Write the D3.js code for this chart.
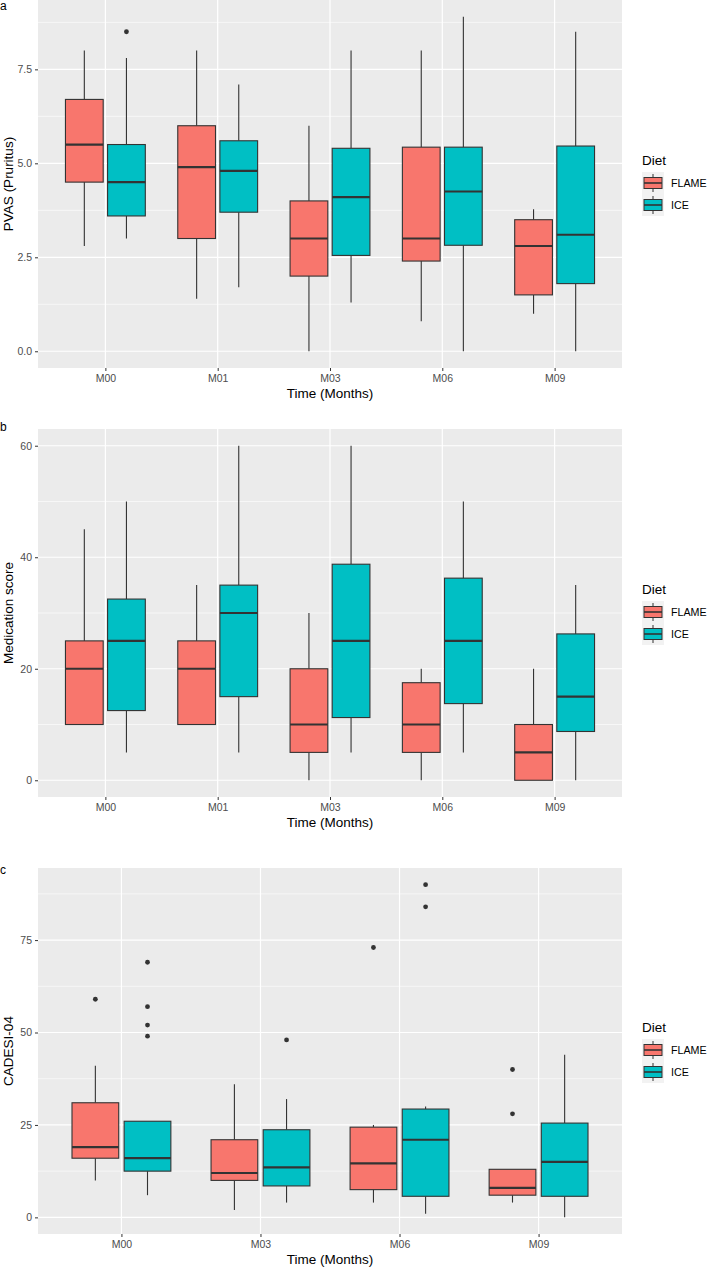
<!DOCTYPE html>
<html>
<head>
<meta charset="utf-8">
<script src="https://cdn.jsdelivr.net/npm/d3@7"></script>
<style>
  body { margin: 0; background: #fff; }
  svg { display: block; font-family: "Liberation Sans", Arial, sans-serif; }
</style>
</head>
<body>
<svg id="chart" width="709" height="1267"></svg>
<script>
// ---------- DATA ----------
const diets = ["FLAME", "ICE"];
const dietColors = ["#F8766D", "#00BFC4"];

// Panel a: PVAS (Pruritus) - [lowWhisker, Q1, median, Q3, highWhisker]
const aCategories = ["M00", "M01", "M03", "M06", "M09"];
const aFlame = [[2.8, 4.5, 5.5, 6.7, 8.0], [1.4, 3.0, 4.9, 6.0, 8.0], [0.0, 2.0, 3.0, 4.0, 6.0], [0.8, 2.4, 3.0, 5.43, 8.0], [1.0, 1.5, 2.8, 3.5, 3.78]];
const aIce = [[3.0, 3.6, 4.5, 5.5, 7.8], [1.7, 3.7, 4.8, 5.6, 7.1], [1.3, 2.55, 4.1, 5.4, 8.0], [0.0, 2.82, 4.25, 5.43, 8.9], [0.0, 1.8, 3.1, 5.46, 8.5]];
const aFlameOutliers = [];
const aIceOutliers = [["M00", 8.5]];
const aTicks = [0, 2.5, 5, 7.5];
const aTickLabels = ["0.0", "2.5", "5.0", "7.5"];
const aMinor = [1.25, 3.75, 6.25, 8.75];

// Panel b: Medication score
const bCategories = ["M00", "M01", "M03", "M06", "M09"];
const bFlame = [[10, 10, 20, 25, 45], [10, 10, 20, 25, 35], [0, 5, 10, 20, 30], [0, 5, 10, 17.5, 20], [0, 0, 5, 10, 20]];
const bIce = [[5, 12.5, 25, 32.5, 50], [5, 15, 30, 35, 60], [5, 11.25, 25, 38.75, 60], [5, 13.75, 25, 36.25, 50], [0, 8.75, 15, 26.25, 35]];
const bFlameOutliers = [];
const bIceOutliers = [];
const bTicks = [0, 20, 40, 60];
const bTickLabels = ["0", "20", "40", "60"];
const bMinor = [10, 30, 50];

// Panel c: CADESI-04
const cCategories = ["M00", "M03", "M06", "M09"];
const cFlame = [[10, 16, 19, 31, 41], [2, 10, 12, 21, 36], [4, 7.5, 14.6, 24.4, 25], [4, 6, 8, 13, 13]];
const cIce = [[6, 12.5, 16, 26, 26], [4, 8.5, 13.5, 23.7, 32], [1, 5.7, 21, 29.3, 30], [0, 5.7, 15, 25.5, 44]];
const cFlameOutliers = [["M00", 59], ["M06", 73], ["M09", 40], ["M09", 28]];
const cIceOutliers = [["M00", 69], ["M00", 57], ["M00", 52], ["M00", 49], ["M03", 48], ["M06", 90], ["M06", 84]];
const cTicks = [0, 25, 50, 75];
const cTickLabels = ["0", "25", "50", "75"];
const cMinor = [12.5, 37.5, 62.5, 87.5];

// ---------- DRAW ----------
const svg = d3.select("#chart");
const L = 38, R = 622;
const FONT = "Liberation Sans, Arial, sans-serif";

function panel(opt) {
  const g = svg.append("g");
  const n = opt.categories.length;
  const x = d3.scaleLinear().domain([0.4, n + 0.6]).range([L, R]);
  const y = d3.scaleLinear().domain(opt.domain).range([opt.bottom, opt.top]);

  // tag
  g.append("text").attr("x", 0).attr("y", opt.tagY).attr("font-size", 12).attr("fill", "#000").text(opt.tag);

  // background
  g.append("rect").attr("x", L).attr("y", opt.top).attr("width", R - L).attr("height", opt.bottom - opt.top).attr("fill", "#EBEBEB");

  // minor grid
  g.selectAll(".minor").data(opt.minor).enter().append("line")
    .attr("x1", L).attr("x2", R).attr("y1", d => y(d)).attr("y2", d => y(d))
    .attr("stroke", "#fff").attr("stroke-width", 0.6);
  // major grid
  g.selectAll(".majorY").data(opt.ticks).enter().append("line")
    .attr("x1", L).attr("x2", R).attr("y1", d => y(d)).attr("y2", d => y(d))
    .attr("stroke", "#fff").attr("stroke-width", 1.2);
  g.selectAll(".majorX").data(opt.categories).enter().append("line")
    .attr("x1", (d, i) => x(i + 1)).attr("x2", (d, i) => x(i + 1)).attr("y1", opt.top).attr("y2", opt.bottom)
    .attr("stroke", "#fff").attr("stroke-width", 1.2);

  // boxes
  const off = 0.1875, hw = 0.168;
  [opt.flame, opt.ice].forEach((series, s) => {
    const dx = s === 0 ? -off : off;
    series.forEach((b, i) => {
      const cx = x(i + 1 + dx);
      const x0 = x(i + 1 + dx - hw), x1 = x(i + 1 + dx + hw);
      const bg = g.append("g");
      bg.append("line").attr("x1", cx).attr("x2", cx).attr("y1", y(b[4])).attr("y2", y(b[3]))
        .attr("stroke", "#333").attr("stroke-width", 1.1);
      bg.append("line").attr("x1", cx).attr("x2", cx).attr("y1", y(b[1])).attr("y2", y(b[0]))
        .attr("stroke", "#333").attr("stroke-width", 1.1);
      bg.append("rect").attr("x", x0).attr("y", y(b[3])).attr("width", x1 - x0).attr("height", y(b[1]) - y(b[3]))
        .attr("fill", dietColors[s]).attr("stroke", "#333").attr("stroke-width", 1.1);
      bg.append("line").attr("x1", x0).attr("x2", x1).attr("y1", y(b[2])).attr("y2", y(b[2]))
        .attr("stroke", "#333").attr("stroke-width", 2.2);
    });
    const outs = s === 0 ? opt.flameOut : opt.iceOut;
    g.selectAll(null).data(outs).enter().append("circle")
      .attr("cx", d => x(opt.categories.indexOf(d[0]) + 1 + dx))
      .attr("cy", d => y(d[1])).attr("r", 2.4).attr("fill", "#333");
  });

  // y axis
  const ya = d3.axisLeft(y).tickValues(opt.ticks).tickFormat((d, i) => opt.tickLabels[i]).tickSize(3).tickPadding(3);
  const yg = g.append("g").attr("transform", `translate(${L},0)`).call(ya);
  yg.select(".domain").remove();
  yg.selectAll(".tick line").attr("stroke", "#333").attr("stroke-width", 1);
  yg.selectAll(".tick text").attr("fill", "#4D4D4D").attr("font-size", 10.5).attr("font-family", FONT);

  // x axis
  const xa = d3.axisBottom(x).tickValues(d3.range(1, n + 1)).tickFormat((d) => opt.categories[d - 1]).tickSize(3).tickPadding(4);
  const xg = g.append("g").attr("transform", `translate(0,${opt.bottom})`).call(xa);
  xg.select(".domain").remove();
  xg.selectAll(".tick line").attr("stroke", "#333").attr("stroke-width", 1);
  xg.selectAll(".tick text").attr("fill", "#4D4D4D").attr("font-size", 10.5).attr("font-family", FONT);

  // axis titles
  g.append("text").attr("x", (L + R) / 2).attr("y", opt.bottom + 30).attr("text-anchor", "middle")
    .attr("font-size", 13.5).attr("fill", "#000").text("Time (Months)");
  g.append("text").attr("transform", `translate(13,${(opt.top + opt.bottom) / 2}) rotate(-90)`)
    .attr("text-anchor", "middle").attr("font-size", 13.5).attr("fill", "#000").text(opt.yTitle);

  // legend
  const lx = 642, ly = opt.legendY;
  g.append("text").attr("x", lx).attr("y", ly).attr("font-size", 13.5).attr("fill", "#000").text("Diet");
  diets.forEach((dname, s) => {
    const ky = ly + 7 + s * 22;
    const kg = g.append("g");
    kg.append("rect").attr("x", lx).attr("y", ky).attr("width", 22).attr("height", 22).attr("fill", "#F2F2F2");
    kg.append("line").attr("x1", lx + 11).attr("x2", lx + 11).attr("y1", ky + 2).attr("y2", ky + 20).attr("stroke", "#333").attr("stroke-width", 1);
    kg.append("rect").attr("x", lx + 2).attr("y", ky + 5.5).attr("width", 18).attr("height", 11)
      .attr("fill", dietColors[s]).attr("stroke", "#333").attr("stroke-width", 1);
    kg.append("line").attr("x1", lx + 2).attr("x2", lx + 20).attr("y1", ky + 11).attr("y2", ky + 11).attr("stroke", "#333").attr("stroke-width", 1.6);
    kg.append("text").attr("x", lx + 29).attr("y", ky + 15).attr("font-size", 10.7).attr("fill", "#000").text(dname);
  });
}

panel({ tag: "a", tagY: 10, top: 0, bottom: 368, domain: [-0.445, 9.345], categories: aCategories,
  flame: aFlame, ice: aIce, flameOut: aFlameOutliers, iceOut: aIceOutliers,
  ticks: aTicks, tickLabels: aTickLabels, minor: aMinor, yTitle: "PVAS (Pruritus)", legendY: 165 });
panel({ tag: "b", tagY: 431, top: 429, bottom: 797, domain: [-3, 63], categories: bCategories,
  flame: bFlame, ice: bIce, flameOut: bFlameOutliers, iceOut: bIceOutliers,
  ticks: bTicks, tickLabels: bTickLabels, minor: bMinor, yTitle: "Medication score", legendY: 594 });
panel({ tag: "c", tagY: 874, top: 868, bottom: 1234, domain: [-4.5, 94.5], categories: cCategories,
  flame: cFlame, ice: cIce, flameOut: cFlameOutliers, iceOut: cIceOutliers,
  ticks: cTicks, tickLabels: cTickLabels, minor: cMinor, yTitle: "CADESI-04", legendY: 1032 });
</script>
</body>
</html>
